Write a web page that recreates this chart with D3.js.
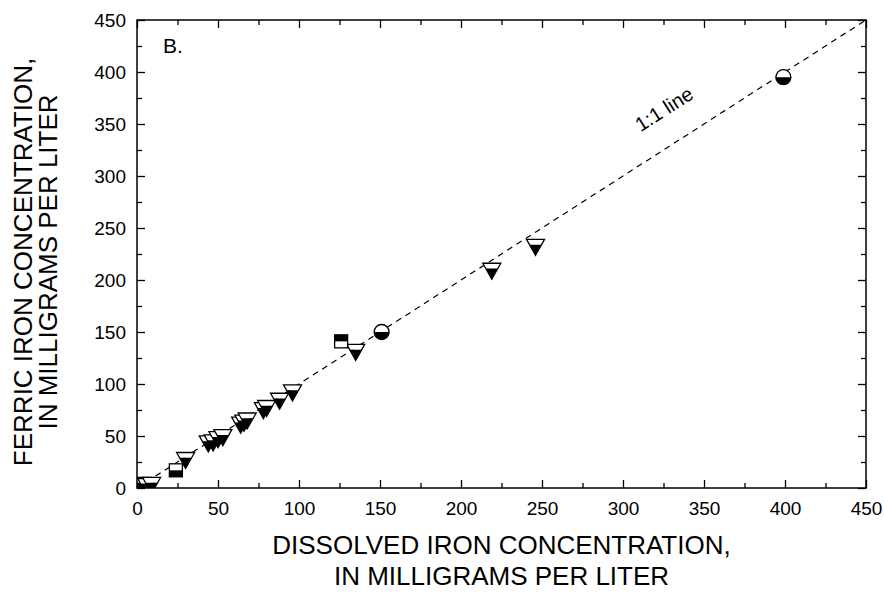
<!DOCTYPE html>
<html>
<head>
<meta charset="utf-8">
<script src="https://d3js.org/d3.v7.min.js"></script>
<style>
html,body{margin:0;padding:0;background:#fff;}
svg{display:block;font-family:"Liberation Sans",Arial,sans-serif;}
</style>
</head>
<body>
<svg id="chart" width="884" height="602"></svg>
<script>
// ---- data ----
const triX = [3, 6, 9, 30, 44, 47, 50, 53, 64, 66, 68, 78, 80, 88, 96, 135, 219, 246];
const triY = [5, 4, 5, 29, 45, 46, 49, 51, 63, 65, 67, 77, 79, 86, 94, 133, 211, 234];
const circX = [151, 399];
const circY = [150, 395];
const sqTopX = [126];
const sqTopY = [141];
const sqBotX = [24];
const sqBotY = [17];
const xTicks = [0, 50, 100, 150, 200, 250, 300, 350, 400, 450];
const yTicks = [0, 50, 100, 150, 200, 250, 300, 350, 400, 450];
const minorTicks = [25, 75, 125, 175, 225, 275, 325, 375, 425];
const lineX = [0, 450];
const lineY = [0, 450];

const svg = d3.select("#chart");
const L = 137, R = 866, T = 20, B = 488;
const x = d3.scaleLinear().domain([0, 450]).range([L, R]);
const y = d3.scaleLinear().domain([0, 450]).range([B, T]);

svg.append("defs").append("clipPath").attr("id", "plotclip")
  .append("rect").attr("x", L).attr("y", T).attr("width", R - L).attr("height", B - T);

// dashed 1:1 line
svg.append("line")
  .attr("x1", x(lineX[0])).attr("y1", y(lineY[0]))
  .attr("x2", x(lineX[1])).attr("y2", y(lineY[1]))
  .attr("stroke", "#000").attr("stroke-width", 1.2)
  .attr("stroke-dasharray", "6,5");

const fs = 19;
function styleAxis(g) {
  g.select(".domain").remove();
  g.selectAll("line").attr("stroke", "#000").attr("stroke-width", 1.3);
  g.selectAll("text").attr("font-size", fs).attr("fill", "#000")
   .attr("font-family", "Liberation Sans, Arial, sans-serif");
}
svg.append("g").attr("transform", `translate(0,${B})`)
  .call(d3.axisBottom(x).tickValues(xTicks).tickSize(-8).tickPadding(14)).call(styleAxis);
svg.append("g").attr("transform", `translate(${L},0)`)
  .call(d3.axisLeft(y).tickValues(yTicks).tickSize(-8).tickPadding(11)).call(styleAxis);
svg.append("g").attr("transform", `translate(0,${T})`)
  .call(d3.axisTop(x).tickValues(xTicks).tickSize(-8).tickFormat("")).call(styleAxis);
svg.append("g").attr("transform", `translate(${R},0)`)
  .call(d3.axisRight(y).tickValues(yTicks).tickSize(-8).tickFormat("")).call(styleAxis);
svg.append("g").attr("transform", `translate(0,${B})`)
  .call(d3.axisBottom(x).tickValues(minorTicks).tickSize(-5).tickFormat("")).call(styleAxis);
svg.append("g").attr("transform", `translate(${L},0)`)
  .call(d3.axisLeft(y).tickValues(minorTicks).tickSize(-5).tickFormat("")).call(styleAxis);
svg.append("g").attr("transform", `translate(0,${T})`)
  .call(d3.axisTop(x).tickValues(minorTicks).tickSize(-5).tickFormat("")).call(styleAxis);
svg.append("g").attr("transform", `translate(${R},0)`)
  .call(d3.axisRight(y).tickValues(minorTicks).tickSize(-5).tickFormat("")).call(styleAxis);

// markers
const marks = svg.append("g").attr("clip-path", "url(#plotclip)");
const tw = 18, th = 16;
triX.forEach((d, i) => {
  const cx = x(d), cy = y(triY[i]);
  const top = cy - th / 3, bot = cy + 2 * th / 3;
  const g = marks.append("g");
  const halfW = (tw / 2) * (1 - (cy - top) / th);
  g.append("path").attr("d", `M${cx - tw/2},${top} L${cx + tw/2},${top} L${cx + halfW},${cy} L${cx - halfW},${cy} Z`).attr("fill", "#fff");
  g.append("path").attr("d", `M${cx - halfW},${cy} L${cx + halfW},${cy} L${cx},${bot} Z`).attr("fill", "#000");
  g.append("path").attr("d", `M${cx - tw/2},${top} L${cx + tw/2},${top} L${cx},${bot} Z`)
    .attr("fill", "none").attr("stroke", "#000").attr("stroke-width", 1.3);
});
const cr = 7.5;
circX.forEach((d, i) => {
  const cx = x(d), cy = y(circY[i]);
  const g = marks.append("g");
  g.append("circle").attr("cx", cx).attr("cy", cy).attr("r", cr).attr("fill", "#fff");
  g.append("path").attr("d", `M${cx - cr},${cy} A${cr},${cr} 0 0 0 ${cx + cr},${cy} Z`).attr("fill", "#000");
  g.append("circle").attr("cx", cx).attr("cy", cy).attr("r", cr).attr("fill", "none").attr("stroke", "#000").attr("stroke-width", 1.3);
});
const ss = 13;
function square(cx, cy, topBlack) {
  const g = marks.append("g");
  g.append("rect").attr("x", cx - ss/2).attr("y", cy - ss/2).attr("width", ss).attr("height", ss).attr("fill", "#fff");
  g.append("rect").attr("x", cx - ss/2).attr("y", topBlack ? cy - ss/2 : cy).attr("width", ss).attr("height", ss/2).attr("fill", "#000");
  g.append("rect").attr("x", cx - ss/2).attr("y", cy - ss/2).attr("width", ss).attr("height", ss)
    .attr("fill", "none").attr("stroke", "#000").attr("stroke-width", 1.3);
}
sqTopX.forEach((d, i) => square(x(d), y(sqTopY[i]), true));
sqBotX.forEach((d, i) => square(x(d), y(sqBotY[i]), false));

// frame
svg.append("rect").attr("x", L).attr("y", T).attr("width", R - L).attr("height", B - T)
  .attr("fill", "none").attr("stroke", "#000").attr("stroke-width", 1.5);

// panel label
svg.append("text").attr("x", 163).attr("y", 53).attr("font-size", 21).text("B.");

// 1:1 line label
const ang = Math.atan2(y(0) - y(450), x(450) - x(0)) * 180 / Math.PI;
svg.append("text").attr("transform", `translate(664,109) rotate(${-ang})`)
  .attr("text-anchor", "middle").attr("dy", "0.35em").attr("font-size", 20).text("1:1 line");

// axis titles
const tfs = 26;
const xt = svg.append("text").attr("text-anchor", "middle").attr("font-size", tfs);
xt.append("tspan").attr("x", (L + R) / 2).attr("y", 554).text("DISSOLVED IRON CONCENTRATION,");
xt.append("tspan").attr("x", (L + R) / 2).attr("y", 585).text("IN MILLIGRAMS PER LITER");
const yt = svg.append("text").attr("text-anchor", "middle").attr("font-size", tfs)
  .attr("transform", `translate(0,${(T + B) / 2 + 8}) rotate(-90)`);
yt.append("tspan").attr("x", 0).attr("y", 32).text("FERRIC IRON CONCENTRATION,");
yt.append("tspan").attr("x", 0).attr("y", 57).text("IN MILLIGRAMS PER LITER");
</script>
</body>
</html>
